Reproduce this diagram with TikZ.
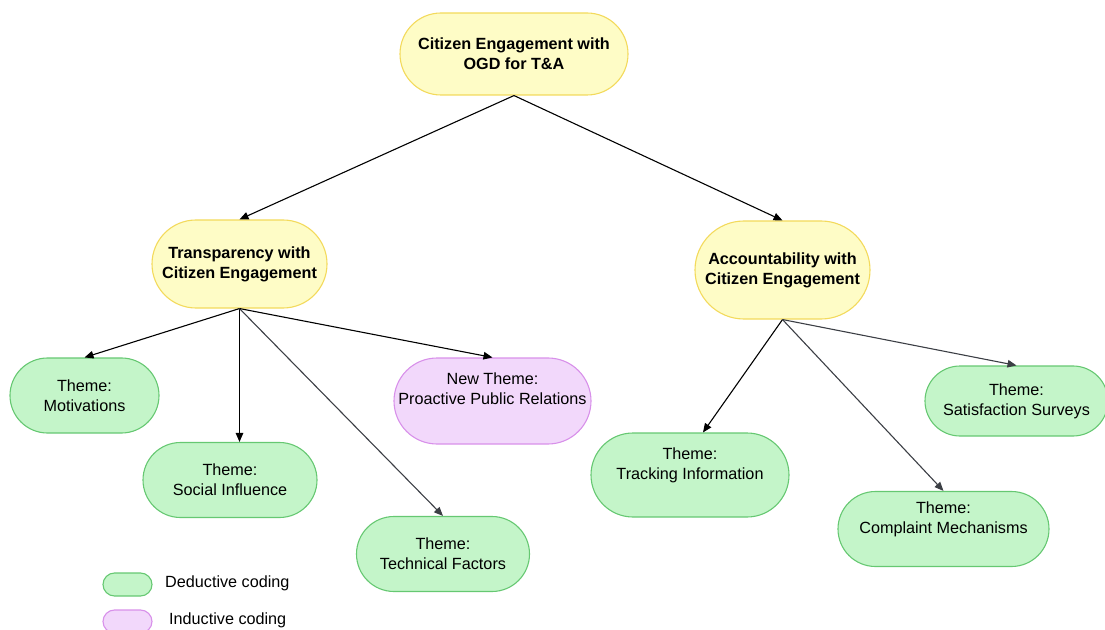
\documentclass[tikz,border=0pt]{standalone}
\usepackage{fontspec}
\setmainfont{Liberation Sans}
\usetikzlibrary{shapes.misc,arrows.meta}

\definecolor{yfill}{HTML}{FEFCC6}
\definecolor{yline}{HTML}{F3DA5C}
\definecolor{gfill}{HTML}{C4F5C9}
\definecolor{gline}{HTML}{66C872}
\definecolor{pfill}{HTML}{F2D8FB}
\definecolor{pline}{HTML}{D890EA}
\definecolor{darkline}{HTML}{3C3F45}

\tikzset{
  pill/.style={rounded rectangle, draw, line width=1.1bp, inner sep=0pt,
    align=center, text=black, font=\fontsize{16.2bp}{20bp}\selectfont},
  mainpill/.style={pill, fill=yfill, draw=yline,
    font=\fontsize{16.2bp}{20bp}\selectfont\bfseries},
  themepill/.style={pill, fill=gfill, draw=gline},
  newpill/.style={pill, fill=pfill, draw=pline},
  pilltext/.style={align=center, inner sep=0pt, text=black,
    font=\fontsize{16.2bp}{20bp}\selectfont},
  legendtext/.style={anchor=west, inner sep=0pt, text=black,
    font=\fontsize{16.2bp}{20bp}\selectfont},
  link/.style={line width=1.1bp, black,
    -{Triangle[length=9bp,width=7.5bp]}},
  greylink/.style={link, darkline},
}

\begin{document}
\begin{tikzpicture}[x=1bp, y=-1bp]
  \useasboundingbox (0,0) rectangle (1105,630);

  % root and the two branches
  \node[mainpill, minimum width=228bp, minimum height=82bp] (root) at (514,54)
    {Citizen Engagement with\\OGD for T\&A};
  \node[mainpill, minimum width=175bp, minimum height=88bp] (trans) at (239.5,264)
    {Transparency with\\Citizen Engagement};
  \node[mainpill, minimum width=175bp, minimum height=98bp] (acc) at (782.5,270)
    {Accountability with\\Citizen Engagement};

  % themes under transparency
  \node[themepill, minimum width=149bp, minimum height=75bp] (motiv) at (84.5,395.5)
    {Theme:\\Motivations};
  \node[themepill, minimum width=174bp, minimum height=75bp] (social) at (230,480)
    {Theme:\\Social Influence};
  \node[themepill, minimum width=173bp, minimum height=75bp] (tech) at (443,554)
    {Theme:\\Technical Factors};
  \node[newpill, minimum width=197bp, minimum height=86bp,
    label={[pilltext, yshift=12bp]center:New Theme:\\Proactive Public Relations}]
    (proactive) at (492.5,401) {};

  % themes under accountability
  \node[themepill, minimum width=198bp, minimum height=84bp,
    label={[pilltext, yshift=10bp]center:Theme:\\Tracking Information}]
    (tracking) at (690,475) {};
  \node[themepill, minimum width=211bp, minimum height=75bp,
    label={[pilltext, yshift=10bp]center:Theme:\\Complaint Mechanisms}]
    (complaint) at (943.5,529) {};
  \node[themepill, minimum width=183bp, minimum height=70bp,
    label={[pilltext, yshift=0bp]center:Theme:\\Satisfaction Surveys}]
    (satisf) at (1016.5,401) {};

  % connectors
  \draw[link] (root.south) -- (trans.north);
  \draw[link] (root.south) -- (acc.north);

  \draw[link] (trans.south) -- (motiv.north);
  \draw[link] (trans.south) -- (trans.south |- social.north);
  \draw[greylink] (trans.south) -- (tech.north);
  \draw[link] (trans.south) -- (proactive.north);

  \coordinate (trackin) at ([xshift=13bp]tracking.north);
  \draw[link] (acc.south) -- (trackin);
  \draw[greylink] (acc.south) -- (complaint.north);
  \draw[greylink] (acc.south) -- (satisf.north);

  % legend
  \node[themepill, minimum width=49bp, minimum height=23bp] (keyded) at (127.5,584.5) {};
  \node[newpill, minimum width=49bp, minimum height=23bp] (keyind) at (127.5,621.5) {};
  \node[legendtext] (keydedtext) at (165,583) {Deductive coding};
  \node[legendtext] (keyindtext) at (169,620) {Inductive coding};
\end{tikzpicture}
\end{document}
